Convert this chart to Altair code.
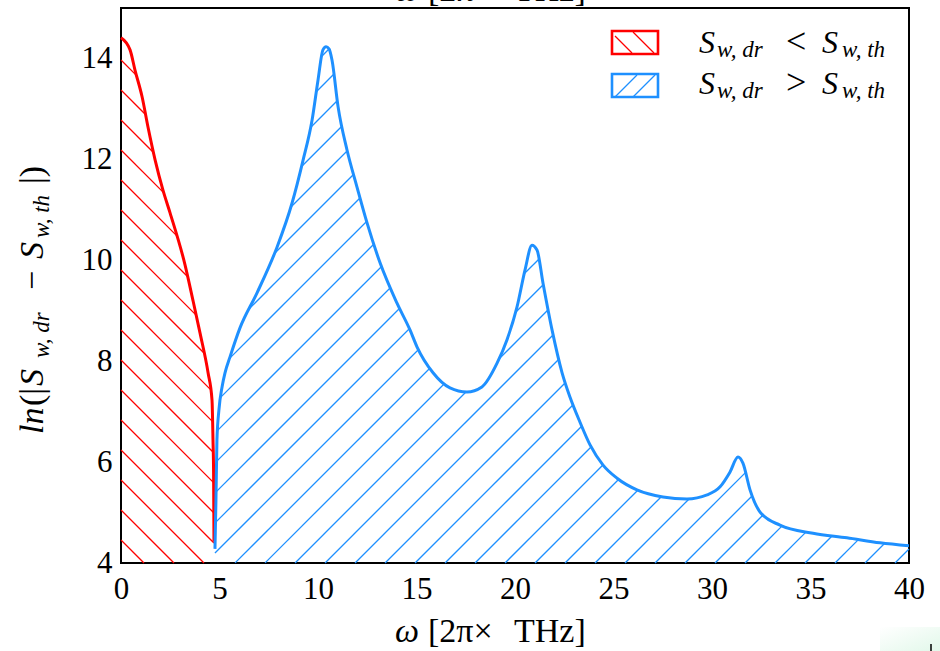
import altair as alt
import numpy as np
import pandas as pd

# ---------------- data ----------------
red_x = [0.0, 0.46, 0.71, 1.07, 1.37, 1.73, 2.13, 2.49, 3.25, 3.65, 4.01, 4.42, 4.62, 4.67, 4.70, 4.72]
red_y = [14.41, 14.17, 13.77, 13.24, 12.64, 11.99, 11.39, 10.94, 9.91, 9.21, 8.56, 7.77, 7.23, 6.44, 5.78, 4.42]

blue_x = [4.77, 4.82, 4.87, 4.97, 5.13, 5.28, 5.53, 6.04, 6.90, 7.92, 8.68, 9.24, 9.70, 10.00,
          10.25, 10.41, 10.56, 10.71, 11.02, 11.47, 11.98, 12.49, 13.15, 14.01, 14.67, 15.03,
          15.84, 16.70, 17.56, 18.32, 19.09, 19.59, 20.10, 20.51, 20.86, 21.12, 21.42, 21.88,
          22.39, 22.79, 23.30, 23.81, 24.47, 25.18, 26.19, 27.51, 28.73, 29.75, 30.41, 30.91,
          31.32, 31.57, 31.93, 32.44, 33.45, 35.13, 36.85, 38.53, 40.0]
blue_y = [4.28, 5.25, 6.44, 7.03, 7.49, 7.77, 8.08, 8.66, 9.35, 10.26, 11.13, 11.98, 12.78, 13.57,
          14.17, 14.23, 14.19, 13.97, 13.04, 12.19, 11.45, 10.74, 9.95, 9.15, 8.62, 8.28,
          7.77, 7.47, 7.39, 7.49, 7.96, 8.42, 9.07, 9.81, 10.30, 10.20, 9.55, 8.62,
          7.77, 7.29, 6.79, 6.34, 5.94, 5.68, 5.45, 5.31, 5.27, 5.35, 5.51, 5.80,
          6.10, 5.98, 5.45, 5.01, 4.75, 4.59, 4.50, 4.40, 4.34]

x_ticks = [0, 5, 10, 15, 20, 25, 30, 35, 40]
y_ticks = [4, 6, 8, 10, 12, 14]

# ---------------- layout / style ----------------
W, H = 788, 555
X_DOM = [0, 40]
Y_DOM = [4, 15]
SPACING = 30
RED = "#ff0000"
BLUE = "#1e90ff"
FONT = "Liberation Serif"


def monotone_tangents(x, y):
    """Tangents used by d3's curveMonotoneX (the 'monotone' interpolation)."""
    n = len(x)
    h = np.diff(x)
    s = np.diff(y) / h
    t = np.zeros(n)
    for i in range(1, n - 1):
        h0, h1, s0, s1 = h[i - 1], h[i], s[i - 1], s[i]
        p = (s0 * h1 + s1 * h0) / (h0 + h1)
        t[i] = (np.sign(s0) + np.sign(s1)) * min(abs(s0), abs(s1), 0.5 * abs(p))
    if n > 2:
        t[0] = (3 * s[0] - t[1]) / 2
        t[-1] = (3 * s[-1] - t[-2]) / 2
    else:
        t[:] = s[0]
    return t


def monotone_eval(x, y, xq):
    x = np.asarray(x, float)
    y = np.asarray(y, float)
    t = monotone_tangents(x, y)
    idx = np.clip(np.searchsorted(x, xq, side="right") - 1, 0, len(x) - 2)
    x0, x1 = x[idx], x[idx + 1]
    y0, y1 = y[idx], y[idx + 1]
    hh = x1 - x0
    s = (xq - x0) / hh
    h00 = 2 * s**3 - 3 * s**2 + 1
    h10 = s**3 - 2 * s**2 + s
    h01 = -2 * s**3 + 3 * s**2
    h11 = s**3 - s**2
    return h00 * y0 + h10 * hh * t[idx] + h01 * y1 + h11 * hh * t[idx + 1]


def hatch_segments(xs, ys, slope, phase):
    """Hatch lines at 45 degrees (in screen space) clipped to the area under a curve."""
    xs = np.asarray(xs, float)
    ys = np.asarray(ys, float)
    uc = (xs - X_DOM[0]) / (X_DOM[1] - X_DOM[0]) * W
    vc = (ys - Y_DOM[0]) / (Y_DOM[1] - Y_DOM[0]) * H
    u = np.linspace(uc[0], uc[-1], int((uc[-1] - uc[0]) * 8) + 2)
    top = monotone_eval(uc, vc, u)
    if slope > 0:
        cmin, cmax = -W - SPACING, H + SPACING
    else:
        cmin, cmax = -SPACING, W + H + SPACING
    k0 = int(np.floor((cmin - phase) / SPACING))
    k1 = int(np.ceil((cmax - phase) / SPACING))
    rows = []
    for k in range(k0, k1 + 1):
        c = phase + k * SPACING
        v = slope * u + c
        inside = (v >= 0) & (v <= top)
        edges = np.flatnonzero(np.diff(np.concatenate([[0], inside.astype(int), [0]])))
        for s, e in zip(edges[0::2], edges[1::2] - 1):
            u0, u1 = u[s], u[e]
            if u1 - u0 < 0.6:
                continue
            v0, v1 = slope * u0 + c, slope * u1 + c
            rows.append({
                "x": X_DOM[0] + u0 / W * (X_DOM[1] - X_DOM[0]),
                "y": Y_DOM[0] + v0 / H * (Y_DOM[1] - Y_DOM[0]),
                "x2": X_DOM[0] + u1 / W * (X_DOM[1] - X_DOM[0]),
                "y2": Y_DOM[0] + v1 / H * (Y_DOM[1] - Y_DOM[0]),
            })
    return pd.DataFrame(rows)


xscale = alt.Scale(domain=X_DOM, nice=False, zero=False)
yscale = alt.Scale(domain=Y_DOM, nice=False, zero=False)

x_axis = alt.Axis(values=x_ticks, title=None, grid=False, ticks=False, tickSize=0, domain=False,
                  labelFont=FONT, labelFontSize=31, labelColor="black", labelPadding=35,
                  labelBaseline="alphabetic", labelFlush=False)
y_axis = alt.Axis(values=y_ticks, title=None, grid=False, ticks=False, tickSize=0, domain=False,
                  labelFont=FONT, labelFontSize=31, labelColor="black", labelPadding=9,
                  labelFlush=False)

red_df = pd.DataFrame({"x": red_x, "y": red_y, "i": range(len(red_x))})
blue_df = pd.DataFrame({"x": blue_x, "y": blue_y, "i": range(len(blue_x))})

red_hatch = hatch_segments(red_x, red_y, -1, 23)
blue_hatch = hatch_segments(blue_x, blue_y, 1, 6)


def hatch_layer(df, color):
    return alt.Chart(df).mark_rule(color=color, strokeWidth=1.3).encode(
        x=alt.X("x:Q", scale=xscale, axis=x_axis),
        y=alt.Y("y:Q", scale=yscale, axis=y_axis),
        x2="x2:Q", y2="y2:Q")


def line_layer(df, color):
    return alt.Chart(df).mark_line(color=color, strokeWidth=3, strokeJoin="round",
                                   interpolate="monotone").encode(
        x=alt.X("x:Q", scale=xscale, axis=x_axis),
        y=alt.Y("y:Q", scale=yscale, axis=y_axis),
        order="i:Q")


def txt(text, x, y, size=30, italic=False, angle=0):
    kw = dict(font=FONT, fontSize=size, align="left", baseline="alphabetic", color="black")
    if italic:
        kw["fontStyle"] = "italic"
    if angle:
        kw["angle"] = angle
    return alt.Chart(pd.DataFrame({"t": [text]})).mark_text(**kw).encode(
        text="t:N", x=alt.value(x), y=alt.value(y))


def rule(x, y, x2, y2, color, width=1.3):
    return alt.Chart(pd.DataFrame({"a": [0]})).mark_rule(color=color, strokeWidth=width).encode(
        x=alt.value(x), y=alt.value(y), x2=alt.value(x2), y2=alt.value(y2))


def box(x, y, x2, y2, color):
    return alt.Chart(pd.DataFrame({"a": [0]})).mark_rect(fill="white", stroke=color, strokeWidth=2.6).encode(
        x=alt.value(x), y=alt.value(y), x2=alt.value(x2), y2=alt.value(y2))


layers = [
    hatch_layer(red_hatch, RED),
    hatch_layer(blue_hatch, BLUE),
    line_layer(red_df, RED),
    line_layer(blue_df, BLUE),
]

# legend (drawn by hand to show hatched swatches and subscripts)
layers += [
    box(491, 23, 537, 46, RED),
    rule(494, 28, 511, 45, RED), rule(512, 24, 533, 45, RED),
    box(491, 66, 537, 89, BLUE),
    rule(494, 89, 516, 67, BLUE), rule(512, 89, 534, 67, BLUE),
]
for row, op in enumerate(["<", ">"]):
    dy = row * 41
    layers += [
        txt("S", 578, 45 + dy, 32, True),
        txt("w, dr", 596, 49 + dy, 23, True),
        txt(op, 665, 45 + dy, 36),
        txt("S", 701, 45 + dy, 32, True),
        txt("w, th", 721, 49 + dy, 23, True),
    ]

# y-axis title ln(|S_{w,dr} - S_{w,th}|)
layers += [
    txt("ln", -78, 426, 34, True, 270),
    txt("(|", -78, 398, 34, False, 270),
    txt("S", -78, 378, 34, True, 270),
    txt("w, dr", -72, 350, 23, True, 270),
    txt("−", -78, 282, 34, False, 270),
    txt("S", -78, 251, 34, True, 270),
    txt("w, th", -72, 230, 23, True, 270),
    txt("|)", -78, 176, 34, False, 270),
]

# x-axis title (bottom) and the clipped copy at the very top
for base in (634, -7):
    layers += [
        txt("ω", 274, base, 34, True),
        txt("[2π×", 307, base, 34),
        txt("THz]", 393, base, 34),
    ]

# small artefact in the bottom-right corner
layers += [
    alt.Chart(pd.DataFrame({"a": [0]})).mark_rect(
        fill=alt.Gradient(gradient="linear", x1=0, y1=0, x2=1, y2=1,
                          stops=[alt.GradientStop(color="white", offset=0),
                                 alt.GradientStop(color="#e2f8ea", offset=1)])
    ).encode(x=alt.value(759), y=alt.value(619), x2=alt.value(819), y2=alt.value(643)),
    rule(810, 636, 810, 643, "black", 1.5),
]

chart = alt.layer(*layers).properties(
    width=W, height=H,
    autosize=alt.AutoSizeParams(type="none"),
    padding={"left": 121, "top": 8, "right": 31, "bottom": 88},
    background="white",
).configure_view(stroke="black", strokeWidth=2)

chart.save("out.html", embed_options={"renderer": "svg", "actions": False})
